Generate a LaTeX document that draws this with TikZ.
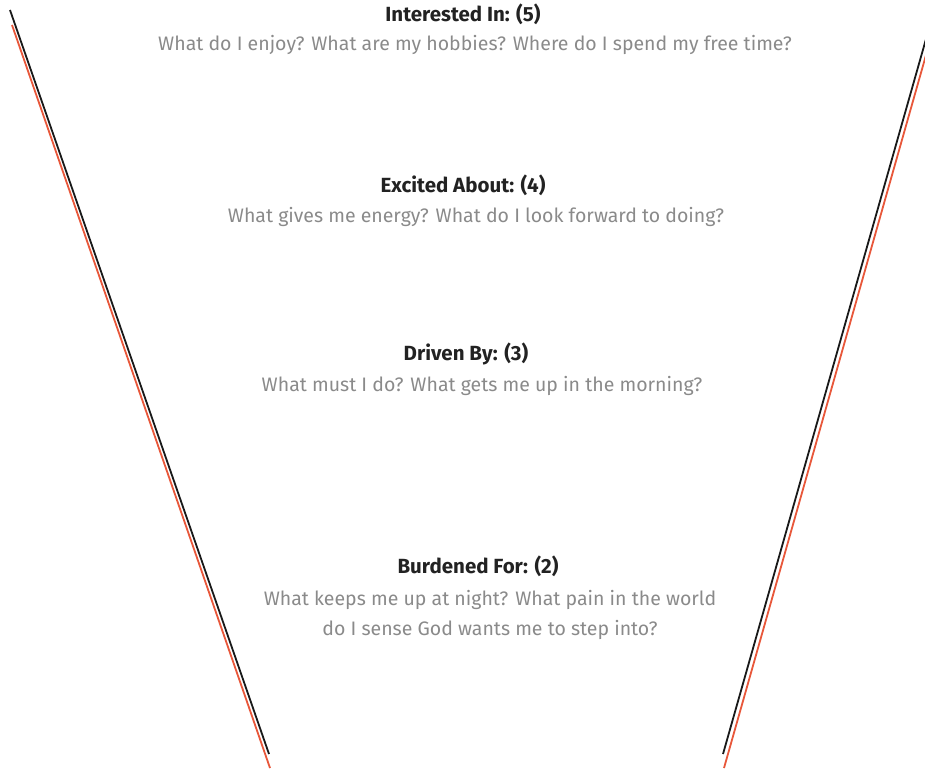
\documentclass[tikz,border=0pt]{standalone}
\usepackage{fontspec}
\setmainfont{Fira Sans}
\usetikzlibrary{positioning}
\definecolor{textgray}{HTML}{8A8A8A}
\definecolor{darktext}{HTML}{222222}
\definecolor{funnelred}{HTML}{E8573A}
\tikzset{
    head/.style={font=\fontsize{20.5}{24}\selectfont\bfseries, text=darktext},
    ask/.style={font=\fontsize{19.5}{30}\selectfont, text=textgray, align=center},
    edgeblack/.style={line width=1.8pt, draw=black!90},
    edgered/.style={line width=1.8pt, draw=funnelred}
}

\begin{document}
\begin{tikzpicture}[x=1pt, y=-1pt]
        \useasboundingbox (0, 0) rectangle (925, 768);
        \node[head] (H5) at (463, 14)  {Interested In: (5)};
        \node[ask]  (Q5) at (475, 45)  {What do I enjoy? What are my hobbies? Where do I spend my free time?};
        \node[head] (H4) at (463, 185) {Excited About: (4)};
        \node[ask]  (Q4) at (476, 217) {What gives me energy? What do I look forward to doing?};
        \node[head] (H3) at (466, 354) {Driven By: (3)};
        \node[ask]  (Q3) at (482, 386) {What must I do? What gets me up in the morning?};
        \node[head] (H2) at (478, 566) {Burdened For: (2)};
        \node[ask]  (Q2) at (490, 615) {What keeps me up at night? What pain in the world\\do I sense God wants me to step into?};
        \coordinate (LBT) at (10, 10);
        \coordinate (LBB) at (269, 754);
        \coordinate (LRT) at (12, 25);
        \coordinate (LRB) at (270, 768);
        \coordinate (RBT) at (928, 32);
        \coordinate (RBB) at (723, 754);
        \coordinate (RRT) at (928, 48);
        \coordinate (RRB) at (724, 768);
        \begin{scope}
            \clip (0, 0) rectangle (925, 768);
            \draw [edgered]   (LRT) -- (LRB);
            \draw [edgeblack] (LBT) -- (LBB);
            \draw [edgered]   (RRT) -- (RRB);
            \draw [edgeblack] (RBT) -- (RBB);
        \end{scope}
\end{tikzpicture}
\end{document}
